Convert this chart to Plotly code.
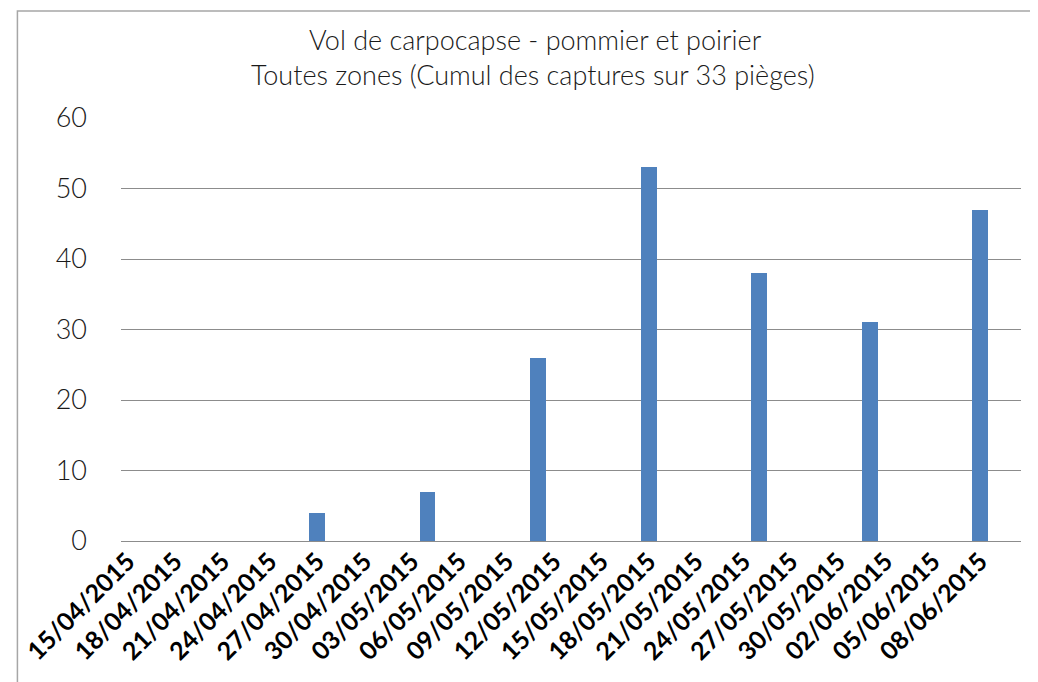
import plotly.graph_objects as go

dates = ["2015-04-27", "2015-05-04", "2015-05-11", "2015-05-18",
         "2015-05-25", "2015-06-01", "2015-06-08"]
captures = [4, 7, 26, 53, 38, 31, 47]

title_line1 = "Vol de carpocapse - pommier et poirier"
title_line2 = "Toutes zones (Cumul des captures sur 33 pièges)"

DAY = 86400000
# page has an 8px body margin; figure coords = page coords - 8
W, H = 1030, 674
L, R, T, B = 105, 17, 110, 141
PW, PH = W - L - R, H - T - B

def px_x(x):
    return (x - L) / PW

def px_y(y):
    return 1 - (y - T) / PH

fig = go.Figure()
fig.add_trace(go.Bar(
    x=dates, y=captures, width=[DAY] * len(dates),
    marker=dict(color="#4F81BD", line=dict(width=0)),
))

title_font = dict(family="Lato", size=27, color="#1a1a1a", weight=300)

fig.update_layout(
    width=W, height=H,
    margin=dict(l=L, r=R, t=T, b=B),
    paper_bgcolor="white", plot_bgcolor="white",
    showlegend=False,
    bargap=0,
    xaxis=dict(
        type="date",
        range=["2015-04-14 14:00", "2015-06-10 14:00"],
        tick0="2015-04-15", dtick=3 * DAY,
        tickformat="%d/%m/%Y",
        tickangle=-45,
        tickfont=dict(family="Lato", size=25, color="black", weight="bold"),
        showgrid=False, showline=False, ticks="",
        zeroline=False,
    ),
    yaxis=dict(
        range=[0, 60], dtick=10,
        showgrid=True, gridcolor="#8c8c8c", gridwidth=1,
        zeroline=True, zerolinecolor="#8c8c8c", zerolinewidth=1,
        tickfont=dict(family="Lato", size=27, color="#1a1a1a", weight=300),
        ticks="", ticklabelstandoff=33,
        showline=False,
    ),
    annotations=[
        dict(text=title_line1, xref="paper", yref="paper",
             x=px_x(523), y=px_y(32), xanchor="center", yanchor="middle",
             showarrow=False, font=title_font),
        dict(text=title_line2, xref="paper", yref="paper",
             x=px_x(521), y=px_y(67), xanchor="center", yanchor="middle",
             showarrow=False, font=title_font),
    ],
)

fig.add_shape(
    type="rect", xref="paper", yref="paper", layer="below",
    x0=px_x(0.5), x1=px_x(W + 5),
    y0=px_y(H + 5), y1=px_y(3),
    line=dict(color="#a6a6a6", width=1.5), fillcolor="rgba(0,0,0,0)",
)

fig.write_html("out.html")
